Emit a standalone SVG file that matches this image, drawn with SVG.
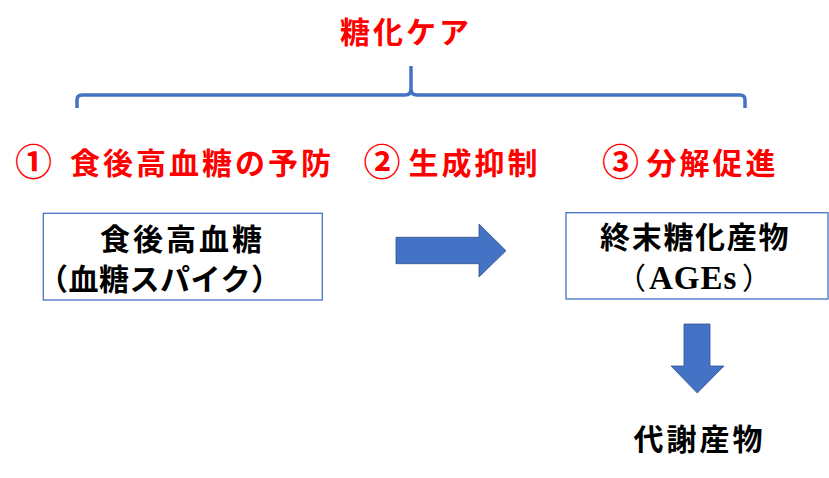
<svg xmlns="http://www.w3.org/2000/svg" width="829" height="478" viewBox="0 0 829 478">
<style>
  .jp { font-family: "Noto Sans CJK JP", "Noto Sans", sans-serif; font-weight: bold; font-size: 30px; letter-spacing: 3px; }
  .num { font-size: 37px; }
  .red { fill: #FF0000; }
  .blk { fill: #000000; }
  .box { fill: #FFFFFF; stroke: #4472C4; stroke-width: 1.3; }
  .arrow { fill: #4472C4; stroke: #2F528F; stroke-width: 0.8; }
  .brace { fill: none; stroke: #4472C4; stroke-width: 3.5; stroke-linejoin: round; }
  .serif { font-family: "Liberation Serif", "Noto Sans CJK JP", serif; font-weight: bold; font-size: 33px; letter-spacing: 1px; }
  .paren { font-family: "Noto Sans CJK JP", sans-serif; font-size: 30px; font-weight: normal; }
</style>
<rect width="829" height="478" fill="#FFFFFF"/>

<g id="title">
  <text class="jp red" x="340" y="43">糖化ケア</text>
</g>

<g id="connectors">
  <path id="brace" class="brace" d="M77,108 V100 Q77,95 82,95 H405 Q411,95 411,89 V66 M411,89 Q411,95 417,95 H740 Q745,95 745,100 V108"/>
  <polygon id="arrow-right" class="arrow" points="396,237.3 479,237.3 479,224 506,250.7 479,277 479,263.7 396,263.7"/>
  <polygon id="arrow-down" class="arrow" points="684,324 710,324 710,366 724,366 697.3,393 671,366 684,366"/>
</g>

<g id="label1">
  <text class="jp red" y="174"><tspan class="num" x="15" y="176">①</tspan> <tspan x="70" y="174">食後高血糖の予防</tspan></text>
</g>
<g id="label2">
  <text class="jp red" y="174"><tspan class="num" x="363.5" y="176">②</tspan> <tspan x="408.5" y="174">生成抑制</tspan></text>
</g>
<g id="label3">
  <text class="jp red" y="174"><tspan class="num" x="602" y="176">③</tspan> <tspan x="646.5" y="174">分解促進</tspan></text>
</g>

<g id="box1">
  <rect class="box" x="43.3" y="213.3" width="279" height="86.7"/>
  <text class="jp blk" x="100" y="250">食後高血糖</text>
  <text class="jp blk" x="38" y="290" style="letter-spacing:0.5px">（血糖スパイク）</text>
</g>

<g id="box2">
  <rect class="box" x="566" y="212.7" width="262" height="86.3"/>
  <text class="jp blk" x="600" y="248" style="letter-spacing:1.7px">終末糖化産物</text>
  <text class="serif blk" y="289"><tspan class="paren" x="616">（</tspan><tspan x="649">AGEs</tspan><tspan class="paren" x="742">）</tspan></text>
</g>

<g id="result">
  <text class="jp blk" x="633.5" y="449.5">代謝産物</text>
</g>
</svg>
